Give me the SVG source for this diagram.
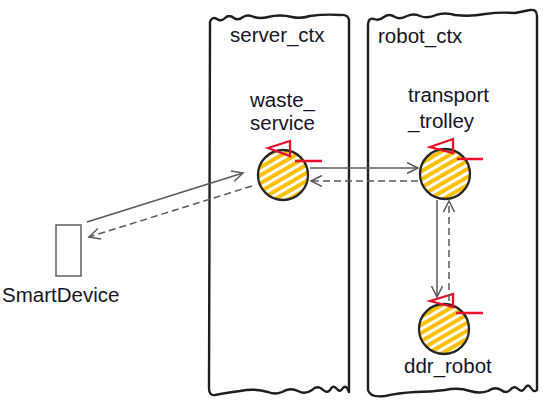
<svg xmlns="http://www.w3.org/2000/svg" width="556" height="406" viewBox="0 0 556 406">
  <style>
    .ctx { fill: none; stroke: #1e1e1e; stroke-width: 2.4; stroke-linejoin: round; stroke-linecap: round; }
    .lbl { font-family: "Liberation Sans", Arial, sans-serif; font-size: 20.5px; fill: #141428; }
    .comp { fill: url(#hatch); stroke: #262626; stroke-width: 2.3; }
    .port polygon { fill: none; stroke: #e8102a; stroke-width: 2.3; stroke-linejoin: miter; }
    .port line { stroke: #e8102a; stroke-width: 2.5; }
    .solid { fill: none; stroke: #5a5a5a; stroke-width: 1.5; marker-end: url(#arrSolid); }
    .dashed { fill: none; stroke: #5a5a5a; stroke-width: 1.5; stroke-dasharray: 7 4; marker-end: url(#arrDash); }
    .device { fill: #ffffff; stroke: #555555; stroke-width: 1.4; }
  </style>
  <defs>
    <pattern id="hatch" patternUnits="userSpaceOnUse" width="7" height="7" patternTransform="rotate(-30)">
      <rect width="7" height="7" fill="#ffffff"/>
      <rect width="7" height="4" fill="#ffc000"/>
    </pattern>
    <marker id="arrSolid" markerUnits="userSpaceOnUse" markerWidth="14" markerHeight="14" refX="12" refY="6" orient="auto">
      <path d="M1,0.5 L12,6 L1,11.5" fill="none" stroke="#5a5a5a" stroke-width="1.5"/>
    </marker>
    <marker id="arrDash" markerUnits="userSpaceOnUse" markerWidth="14" markerHeight="14" refX="12" refY="6" orient="auto">
      <path d="M1,0.5 L12,6 L1,11.5" fill="none" stroke="#5a5a5a" stroke-width="1.5"/>
    </marker>
  </defs>
  <rect width="556" height="406" fill="#ffffff"/>

  <g id="server_ctx">
    <path class="ctx" d="M210,26 L210,22 Q212,16 217,19 Q221,22 225,18 Q229,14 234,18 Q238,21 243,17 Q248,14 254,17 Q260,19 268,17 Q280,14 292,17 Q300,19 310,16 Q325,14 340,15 Q348,14 349,20 L349,392 Q346,384 343,388 Q340,393 337,389 Q333,384 330,390 Q327,394 322,389 Q317,385 312,390 Q305,395 298,391 Q290,387 282,392 Q275,395 268,392 Q255,388 240,391 Q225,393 215,395 Q209,396 209,388 Z"/>
    <text class="lbl" x="230" y="42">server_ctx</text>
  </g>

  <g id="robot_ctx">
    <path class="ctx" d="M368,26 Q368,17 374,19 Q379,21 384,17 Q389,13 395,17 Q400,20 407,16 Q414,13 420,16 Q428,19 436,15 Q445,12 455,15 Q470,17 485,14 Q500,12 515,13 Q525,11 530,10 Q537,9 537,16 L537,390 Q534,393 531,388 Q528,383 525,388 Q522,393 518,389 Q514,385 510,390 Q506,394 501,390 Q495,386 488,391 Q480,394 470,391 Q458,387 445,390 Q430,392 415,392 Q398,393 385,396 Q370,398 368,390 Z"/>
    <text class="lbl" x="378" y="43">robot_ctx</text>
  </g>

  <g id="waste_service">
    <text class="lbl" x="250" y="107">waste_</text>
    <text class="lbl" x="250" y="130">service</text>
    <circle class="comp" cx="283" cy="175" r="25"/>
    <g class="port" transform="translate(283,175)">
      <polygon points="-15,-27 7,-34 7,-19"/>
      <line x1="12" y1="-14" x2="39" y2="-14"/>
    </g>
  </g>

  <g id="transport_trolley">
    <text class="lbl" x="408" y="102">transport</text>
    <text class="lbl" x="408" y="128">_trolley</text>
    <circle class="comp" cx="445" cy="174" r="25"/>
    <g class="port" transform="translate(445,174)">
      <polygon points="-15,-27 8,-35 8,-21"/>
      <line x1="12" y1="-15" x2="38" y2="-15"/>
    </g>
  </g>

  <g id="ddr_robot">
    <circle class="comp" cx="444" cy="329" r="25"/>
    <g class="port" transform="translate(444,329)">
      <polygon points="-14,-28 9,-35 9,-22"/>
      <line x1="12" y1="-16" x2="39" y2="-16"/>
    </g>
    <text class="lbl" x="404" y="373">ddr_robot</text>
  </g>

  <g id="SmartDevice">
    <rect class="device" x="56" y="225" width="25" height="51"/>
    <text class="lbl" x="2" y="302">SmartDevice</text>
  </g>

  <g id="connectors">
    <line class="solid" x1="310" y1="168" x2="418" y2="168"/>
    <line class="dashed" x1="418" y1="181" x2="311" y2="181"/>
    <line class="solid" x1="87" y1="222" x2="243" y2="173"/>
    <line class="dashed" x1="252" y1="186" x2="89" y2="237"/>
    <line class="solid" x1="437" y1="200" x2="437" y2="297"/>
    <line class="dashed" x1="449" y1="301" x2="449" y2="201"/>
  </g>
</svg>
